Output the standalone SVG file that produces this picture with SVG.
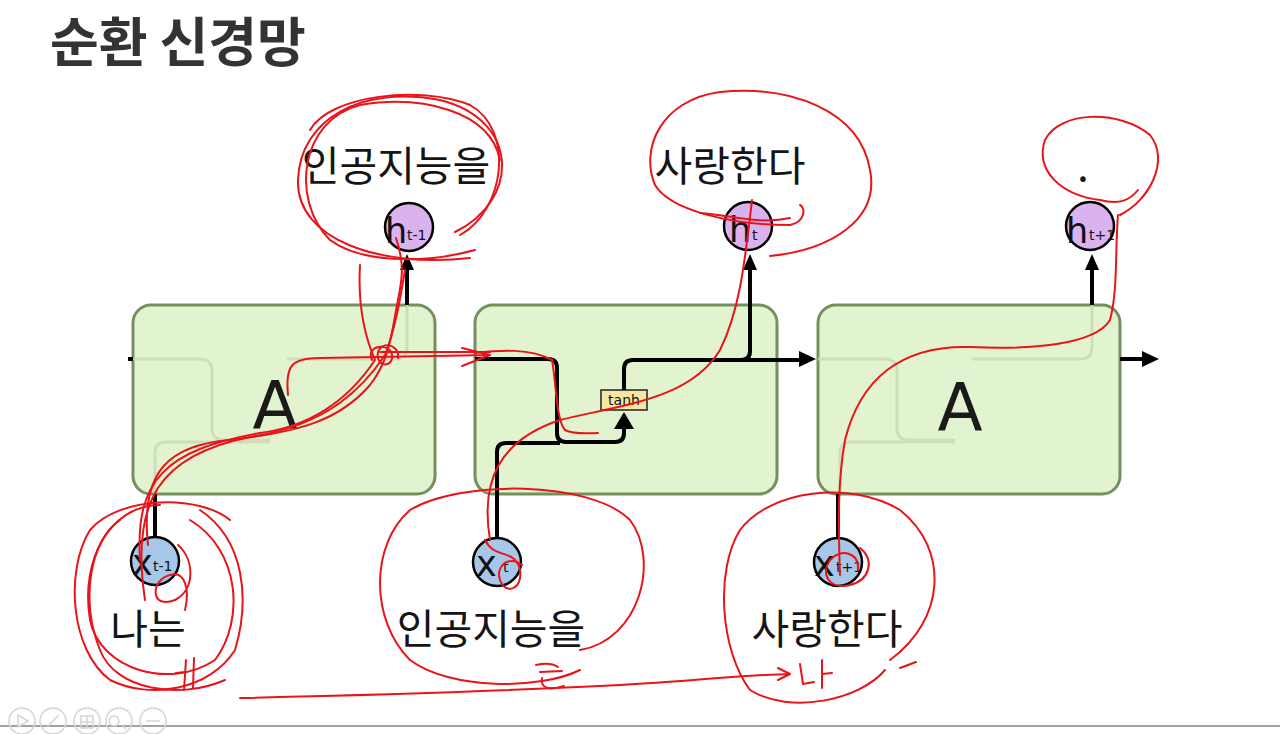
<svg xmlns="http://www.w3.org/2000/svg" width="1280" height="734" viewBox="0 0 1280 734">
<defs>
<style>
.box{fill:#e2f4cf;stroke:#768f5e;stroke-width:3}
.ghost{fill:none;stroke:#c9d8b8;stroke-width:3;opacity:.8}
.wire{fill:none;stroke:#000;stroke-width:4;stroke-linejoin:round}
.big{font-family:"DejaVu Sans",sans-serif;font-size:66px;fill:#1a1a1a;text-anchor:middle}
.hc{fill:#d9b2ee;stroke:#000;stroke-width:2.5}
.xc{fill:#a7c7e8;stroke:#000;stroke-width:2.5}
.sym{font-family:"DejaVu Sans",sans-serif;font-size:35px;fill:#111}
.sub{font-family:"DejaVu Sans",sans-serif;font-size:14px;fill:#111}
.lbl{font-family:"Noto Sans CJK KR","Noto Sans",sans-serif;font-size:41px;fill:#151515;text-anchor:middle}
.red{fill:none;stroke:#e8141a;stroke-width:2;stroke-linecap:round;stroke-linejoin:round}
.tb{fill:none;stroke:#d4d4d4;stroke-width:1.5}
</style>
</defs>
<rect width="1280" height="734" fill="#fff"/>
<text x="50" y="62" font-family="'Noto Sans CJK KR','Noto Sans',sans-serif" font-size="53" font-weight="bold" fill="#333">순환 신경망</text>

<g id="cell1">
<rect class="box" x="133" y="305" width="302" height="189" rx="18"/>
<path class="ghost" d="M133,359 H200 Q212,359 212,371 V428 Q212,440 224,440 H270 M155,494 V452 Q155,442 167,442 H270 M287,359 H395 Q407,359 407,347 V305"/>
<text class="big" x="275" y="428">A</text>
</g>
<g id="cell2">
<rect class="box" x="475" y="305" width="302" height="189" rx="18"/>
<rect x="601" y="390" width="46" height="20" fill="#f8e7a2" stroke="#222" stroke-width="1.5"/>
<text x="624" y="405" font-family="'DejaVu Sans',sans-serif" font-size="14" text-anchor="middle" fill="#111">tanh</text>
</g>
<g id="cell3">
<rect class="box" x="818" y="305" width="302" height="189" rx="18"/>
<path class="ghost" d="M818,359 H885 Q897,359 897,371 V428 Q897,440 909,440 H955 M840,494 V452 Q840,442 852,442 H955 M972,359 H1080 Q1092,359 1092,347 V305"/>
<text class="big" x="960" y="430">A</text>
</g>

<g id="connectors">
<path class="wire" d="M133,359 H128"/>
<path class="wire" d="M155,494 V538"/>
<path class="wire" d="M407,305 V268"/>
<path d="M400,270 L414,270 L407,254 Z" fill="#000"/>
<path class="wire" d="M475,359 H548 Q557,359 557,368 V433 Q557,442 566,442 H615 Q624,442 624,433 V428"/>
<path class="wire" d="M497,538 V452 Q497,443 506,443 H560"/>
<path d="M614,429 L634,429 L624,412 Z" fill="#000"/>
<path class="wire" d="M624,390 V369 Q624,360 633,360 H741 Q750,360 750,351 V268"/>
<path d="M743,270 L757,270 L750,254 Z" fill="#000"/>
<path class="wire" d="M741,360 H800"/>
<path d="M799,351 L816,359 L799,367 Z" fill="#000"/>
<path class="wire" d="M838,538 V494"/>
<path class="wire" d="M1092,305 V268"/>
<path d="M1085,270 L1099,270 L1092,254 Z" fill="#000"/>
<path class="wire" d="M1120,359 H1145"/>
<path d="M1142,351 L1159,359 L1142,367 Z" fill="#000"/>
</g>

<g id="h1"><circle class="hc" cx="409" cy="227" r="24"/><text class="sym" x="385" y="243">h</text><text class="sub" x="407" y="240">t-1</text></g>
<g id="h2"><circle class="hc" cx="748" cy="226" r="24"/><text class="sym" x="729" y="242">h</text><text class="sub" x="752" y="240">t</text></g>
<g id="h3"><circle class="hc" cx="1090" cy="226" r="24"/><text class="sym" x="1066" y="243">h</text><text class="sub" x="1089" y="240">t+1</text></g>
<g id="x1"><circle class="xc" cx="155" cy="561" r="24"/><text class="sym" x="132" y="575">x</text><text class="sub" x="153" y="571">t-1</text></g>
<g id="x2"><circle class="xc" cx="497" cy="562" r="24"/><text class="sym" x="476" y="576">x</text><text class="sub" x="503" y="572">t</text></g>
<g id="x3"><circle class="xc" cx="838" cy="562" r="24"/><text class="sym" x="814" y="576">x</text><text class="sub" x="836" y="572">t+1</text></g>

<g id="labels">
<text class="lbl" x="396" y="181">인공지능을</text>
<text class="lbl" x="730" y="181">사랑한다</text>
<text class="lbl" x="1083" y="181">.</text>
<text class="lbl" x="148" y="644">나는</text>
<text class="lbl" x="491" y="644">인공지능을</text>
<text class="lbl" x="827" y="644">사랑한다</text>
</g>

<g id="annotations">
<path class="red" d="M455,232 C520,200 520,120 440,100 C360,85 300,120 298,180 C296,240 380,268 470,258"/>
<path class="red" d="M310,130 C330,95 420,85 470,105 C515,130 505,210 460,235"/>
<path class="red" d="M500,160 C490,110 420,95 360,105 C300,120 290,200 330,240 C360,262 420,265 475,250"/>
<path class="red" d="M148,545 C140,470 170,445 230,440 C300,432 340,420 370,385 C390,360 392,330 398,300 C402,280 405,265 396,238"/>
<path class="red" d="M140,560 C135,480 165,450 260,433 C320,425 355,390 375,360 C362,330 358,300 360,265"/>
<path class="red" d="M145,600 C130,500 160,455 250,437 C330,425 365,385 385,355 C395,330 400,300 405,270"/>
<path class="red" d="M372,360 C365,345 390,342 392,355 C394,368 375,368 378,352 C382,340 400,345 398,358"/>
<path class="red" d="M288,395 C285,365 292,358 320,358 L490,355 M380,352 L490,352 M462,348 L490,355 L462,366"/>
<path class="red" d="M475,353 C500,350 530,348 552,360 C556,380 556,420 565,430 C575,435 590,433 598,433"/>
<path class="red" d="M490,540 C480,480 500,440 560,420 C620,405 690,400 720,350 C740,310 745,260 752,200"/>
<path class="red" d="M485,540 C495,560 515,548 520,570 C523,590 505,595 500,580 C495,565 510,555 522,565"/>
<path class="red" d="M770,256 C830,250 880,220 870,170 C860,110 790,85 720,92 C660,100 640,150 655,185 C670,210 730,225 790,225 C805,222 806,208 800,205"/>
<path class="red" d="M700,213 C730,215 760,225 790,218"/>
<path class="red" d="M1120,215 C1150,200 1170,160 1150,135 C1120,110 1060,110 1045,140 C1035,170 1060,195 1100,200 C1120,205 1130,200 1138,190"/>
<path class="red" d="M1118,215 C1115,250 1118,290 1110,320 C1095,345 1030,350 970,347 C900,345 860,380 845,440 C838,480 838,520 840,575"/>
<path class="red" d="M860,548 C875,560 870,580 850,585 C830,590 820,575 830,560 C840,548 860,552 858,570"/>
<path class="red" d="M230,520 C200,495 120,495 90,530 C65,570 70,650 110,680 C150,700 210,690 235,650 C250,600 245,540 200,510"/>
<path class="red" d="M160,505 C110,505 80,560 90,620 C100,670 170,690 215,660 C245,620 240,550 190,520"/>
<path class="red" d="M120,520 C90,540 80,600 100,650 C115,690 180,700 225,680"/>
<path class="red" d="M178,545 C195,560 195,590 175,600 C150,610 150,580 170,575 C185,570 190,590 185,610"/>
<path class="red" d="M580,650 C640,640 660,560 630,520 C590,480 460,480 410,510 C370,545 370,620 410,660 C450,690 540,690 580,670"/>
<path class="red" d="M890,660 C945,620 950,550 900,510 C850,480 770,490 740,530 C715,570 720,650 750,690 C790,715 860,700 885,670"/>
<path class="red" d="M240,698 C380,695 520,690 600,686 C680,682 740,675 790,674 M778,668 L790,674 L778,680"/>
<path class="red" d="M186,660 L184,690 M194,658 L193,688 M176,673 L186,672"/>
<path class="red" d="M536,665 C545,663 552,663 558,667 M540,672 L562,671 M542,678 C540,690 552,690 564,686"/>
<path class="red" d="M800,664 L803,684 L814,682 M822,660 L822,688 M822,674 L832,673"/>
<path class="red" d="M900,668 L916,662"/>
</g>

<g id="toolbar">
<line x1="0" y1="726" x2="1280" y2="726" stroke="#444" stroke-width="1.2"/>
<circle class="tb" cx="22" cy="721" r="13"/>
<circle class="tb" cx="53" cy="721" r="13"/>
<circle class="tb" cx="87" cy="721" r="13"/>
<circle class="tb" cx="119" cy="721" r="13"/>
<circle class="tb" cx="153" cy="721" r="13"/>
<path class="tb" d="M18,715 L28,721 L18,727 Z M47,727 L59,715 M81,716 H93 V728 H81 Z M87,716 V728 M81,722 H93 M114,716 a5,5 0 1,0 0.1,0 M122,725 L126,729 M146,721 H160"/>
</g>
</svg>
